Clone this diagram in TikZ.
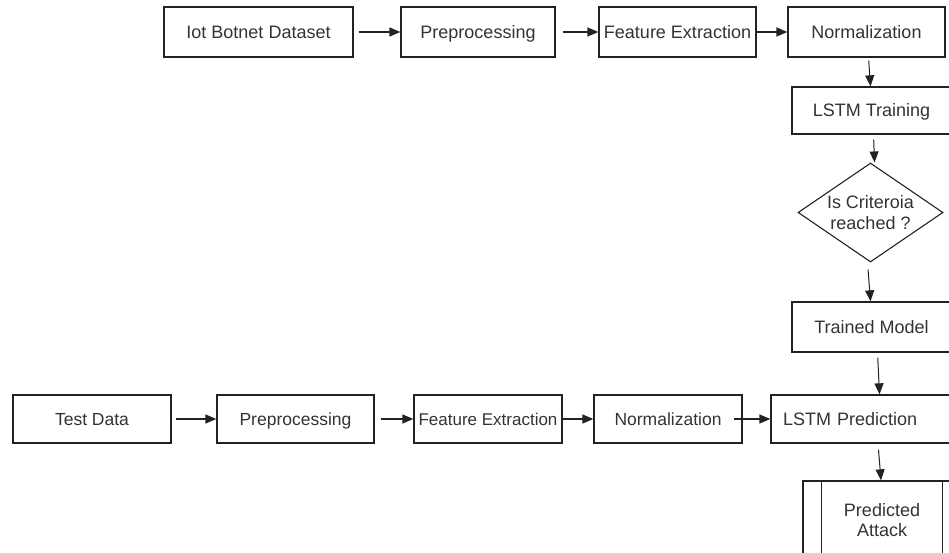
\documentclass[tikz,border=0pt]{standalone}
\usepackage{fontspec}
\setmainfont{Liberation Sans}
\usetikzlibrary{shapes.geometric,arrows.meta}
\definecolor{ln}{HTML}{222222}
\definecolor{tx}{HTML}{333333}
\tikzset{
  base/.style={draw=ln, line width=1.3pt, inner sep=0pt, text=tx,
    font=\fontsize{18}{20.5}\selectfont, align=center},
  box/.style={base, rectangle, text height=13pt, text depth=0pt},
  mbox/.style={base, rectangle},
  small/.style={font=\fontsize{17.5}{20}\selectfont},
  harrow/.style={draw=ln, line width=1.5pt, -{Triangle[length=11pt,width=9pt]}},
  varrow/.style={draw=ln, line width=1pt, -{Triangle[length=11pt,width=9pt]}},
}
\begin{document}
\begin{tikzpicture}[x=1pt,y=-1pt]
\useasboundingbox (0,0) rectangle (949,553);
\clip (0,0) rectangle (949,553);
% top row
\node[box, minimum width=189, minimum height=50] (iot) at (258.5,32) {Iot Botnet Dataset};
\node[box, minimum width=154, minimum height=50] (prepA) at (478,32) {Preprocessing};
\node[box, minimum width=157, minimum height=50] (feA) at (677.5,32) {Feature Extraction};
\node[box, minimum width=157, minimum height=50] (normA) at (866.5,32) {Normalization};
% right column
\node[box, minimum width=159, minimum height=47] (train) at (871.5,110.5) {LSTM Training};
\node[base, line width=1.1pt, diamond, aspect=1.46, minimum width=145, minimum height=99] (crit) at (870.5,212.5) {Is Criteroia\\reached ?};
\node[box, minimum width=159, minimum height=50] (trained) at (871.5,327) {Trained Model};
% bottom row
\node[box, small, minimum width=158, minimum height=48] (test) at (92,419) {Test Data};
\node[box, small, minimum width=157, minimum height=48] (prepB) at (295.5,419) {Preprocessing};
\node[box, font=\fontsize{17}{20}\selectfont, minimum width=148, minimum height=48] (feB) at (488,419) {Feature Extraction};
\node[box, small, minimum width=148, minimum height=48] (normB) at (668,419) {Normalization};
\node[box, minimum height=48, text width=160, inner xsep=12, align=left] (pred) at (863,419) {LSTM Prediction};
\node[mbox, minimum width=158, minimum height=78] (pa) at (882,520) {Predicted\\Attack};
\draw[draw=ln, line width=1.3pt] ([xshift=19]pa.north west) -- ([xshift=19]pa.south west);
\draw[draw=ln, line width=1.3pt] ([xshift=-19]pa.north east) -- ([xshift=-19]pa.south east);
% top arrows
\draw[harrow, shorten <=5pt] (iot.east) -- (prepA.west);
\draw[harrow, shorten <=7pt] (prepA.east) -- (feA.west);
\draw[harrow] (feA.east) -- (normA.west);
% vertical arrows
\draw[varrow, shorten <=3pt] ([xshift=2]normA.south) -- ([xshift=-1]train.north);
\draw[varrow, shorten <=5pt] ([xshift=2]train.south) -- ([xshift=4]crit.north);
\draw[varrow, shorten <=7pt] ([xshift=-3]crit.south) -- ([xshift=-1]trained.north);
\draw[varrow, shorten <=5pt] ([xshift=6]trained.south) -- ([xshift=8]pred.north -| trained.south);
\draw[varrow, shorten <=6pt] ([xshift=6.5]pred.south -| trained.south) -- ([xshift=-1]pa.north);
% bottom arrows
\draw[harrow, shorten <=4pt] (test.east) -- (prepB.west);
\draw[harrow, shorten <=6pt] (prepB.east) -- (feB.west);
\draw[harrow] (feB.east) -- (normB.west);
\draw[harrow, shorten <=-4pt] ([xshift=-5]normB.east) -- (pred.west);
\end{tikzpicture}
\end{document}
